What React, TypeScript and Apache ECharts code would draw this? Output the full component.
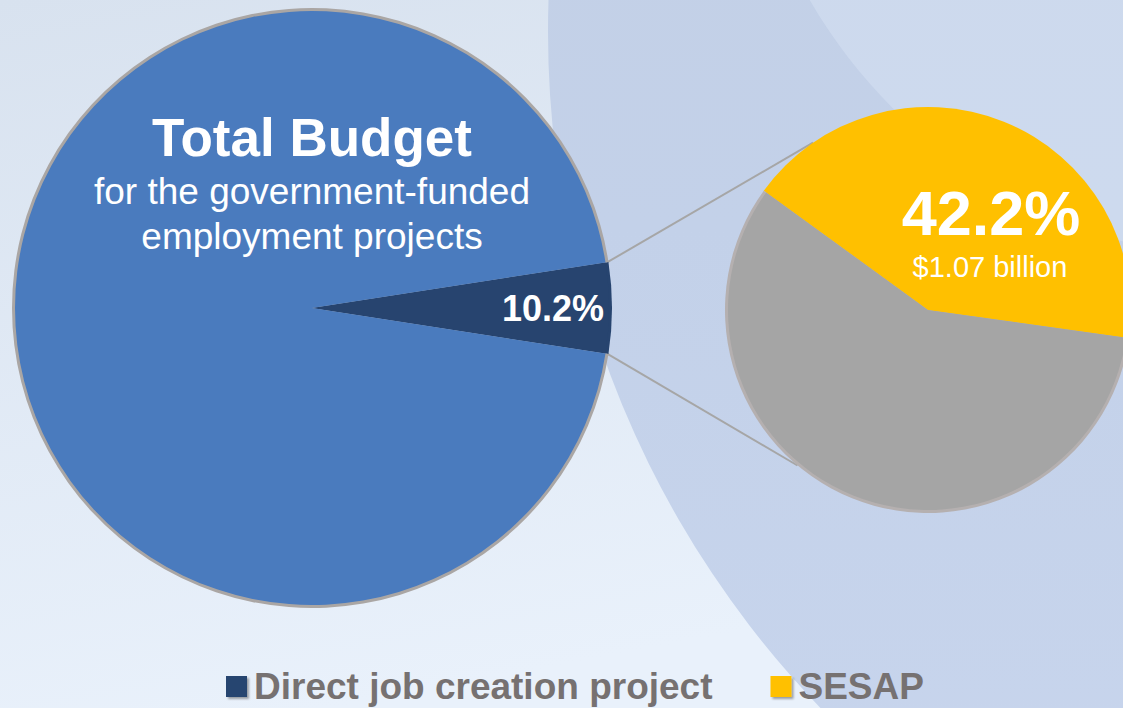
import React, { useEffect, useRef } from "react";
import * as echarts from "echarts";

// ---- data ----
const BIG_CATEGORIES = ["Direct job creation project", "Other employment projects"];
const BIG_SHARES = [4.9, 95.1]; // share of the circle as drawn
const BIG_LABEL = "10.2%";
const SMALL_CATEGORIES = ["SESAP", "Other direct job creation"];
const SMALL_SHARES = [42.2, 57.8];
const SMALL_LABEL = "42.2%";
const SMALL_AMOUNT = "$1.07 billion";
const TITLE_LINES = ["Total Budget", "for the government-funded", "employment projects"];
const LEGEND_ITEMS = ["Direct job creation project", "SESAP"];

const BIG_COLORS = ["#27446f", "#4a7bbe"];
const BIG_RING = ["#27446f", "#aaa6a4"];
const SMALL_COLORS = ["#ffc000", "#a5a5a5"];
const SMALL_RING = ["#ffc000", "#b5b0b0"];

const FONT = "Liberation Sans";

export default function App() {
  const ref = useRef<HTMLDivElement>(null);
  useEffect(() => {
    if (!ref.current) return;
    const chart = echarts.init(ref.current, null, { renderer: "svg" });

    const bigC = [312, 308];
    const bigR = 297;
    const bigRing = 300;
    const smallC = [928, 310];
    const smallR = 200;
    const smallRing = 203;

    const bigStart = (BIG_SHARES[0] / 100) * 360 / 2;
    const smallStart = 144;
    const rad = Math.PI / 180;
    const p = (c: number[], r: number, a: number) => [c[0] + r * Math.cos(a * rad), c[1] - r * Math.sin(a * rad)];
    const t1 = p(bigC, bigRing - 1, bigStart);
    const b1 = p(bigC, bigRing - 1, -bigStart);
    const t2 = p(smallC, smallRing, 124.5);
    const b2 = p(smallC, smallRing, 230);

    const mk = (names: string[], vals: number[], colors: string[]) =>
      names.map((n, i) => ({ name: n, value: vals[i], itemStyle: { color: colors[i] } }));

    const pieBase = {
      type: "pie",
      silent: true,
      label: { show: false },
      labelLine: { show: false },
      emphasis: { disabled: true },
      itemStyle: { borderWidth: 0 },
      padAngle: 0,
      avoidLabelOverlap: false,
    };

    const texts: any[] = [
      { t: TITLE_LINES[0], x: bigC[0], y: 137, size: 53, bold: true },
      { t: TITLE_LINES[1], x: bigC[0], y: 191, size: 37, bold: false },
      { t: TITLE_LINES[2], x: bigC[0], y: 236, size: 37, bold: false },
      { t: BIG_LABEL, x: 553, y: 308, size: 36, bold: true },
      { t: SMALL_LABEL, x: 991, y: 213, size: 63, bold: true },
      { t: SMALL_AMOUNT, x: 990, y: 267, size: 29, bold: false },
    ].map((d) => ({
      type: "text",
      z: 100,
      silent: true,
      style: {
        text: d.t,
        x: d.x,
        y: d.y,
        fill: "#ffffff",
        textAlign: "center",
        textVerticalAlign: "middle",
        fontFamily: FONT,
        fontSize: d.size,
        fontWeight: d.bold ? "bold" : "normal",
      },
    }));

    chart.setOption({
      animation: false,
      backgroundColor: "#dde6f2",
      textStyle: { fontFamily: FONT },
      legend: {
        data: LEGEND_ITEMS,
        left: 226,
        top: 668,
        padding: 0,
        itemWidth: 21,
        itemHeight: 21,
        itemGap: 58,
        icon: "rect",
        selectedMode: false,
        itemStyle: { shadowBlur: 2, shadowColor: "rgba(0,0,0,0.35)", shadowOffsetX: 2, shadowOffsetY: 2 },
        textStyle: { fontFamily: FONT, fontWeight: "bold", fontSize: 37, color: "#767171", padding: [0, 0, 0, 2] },
      },
      graphic: [
        {
          type: "rect",
          z: -10,
          silent: true,
          shape: { x: 0, y: 0, width: 1123, height: 708 },
          style: {
            fill: new echarts.graphic.LinearGradient(0, 0, 0.3, 1, [
              { offset: 0, color: "#d8e2ef" },
              { offset: 1, color: "#e9f1fb" },
            ]),
          },
        },
        {
          type: "circle",
          z: -9,
          silent: true,
          shape: { cx: 1523, cy: 32, r: 975 },
          style: {
            fill: new echarts.graphic.LinearGradient(0, 0, 0, 1, [
              { offset: 0, color: "#c3cee0" },
              { offset: 0.6, color: "#c3d1e9" },
              { offset: 1, color: "#c9d6ee" },
            ]),
          },
        },
        {
          type: "circle",
          z: -8,
          silent: true,
          shape: { cx: 1260, cy: -260, r: 520 },
          style: { fill: "rgba(212,224,241,0.6)" },
        },
        {
          type: "line",
          z: -1,
          silent: true,
          shape: { x1: t1[0], y1: t1[1], x2: t2[0], y2: t2[1] },
          style: { stroke: "#a6a6a6", lineWidth: 2 },
        },
        {
          type: "line",
          z: -1,
          silent: true,
          shape: { x1: b1[0], y1: b1[1], x2: b2[0], y2: b2[1] },
          style: { stroke: "#a6a6a6", lineWidth: 2 },
        },
        ...texts,
      ],
      series: [
        { ...pieBase, name: "ringBig", center: bigC, radius: bigRing, startAngle: bigStart, data: mk(BIG_CATEGORIES, BIG_SHARES, BIG_RING) },
        { ...pieBase, name: "big", center: bigC, radius: bigR, startAngle: bigStart, data: mk(BIG_CATEGORIES, BIG_SHARES, BIG_COLORS) },
        { ...pieBase, name: "ringSmall", center: smallC, radius: smallRing, startAngle: smallStart, data: mk(SMALL_CATEGORIES, SMALL_SHARES, SMALL_RING) },
        { ...pieBase, name: "small", center: smallC, radius: smallR, startAngle: smallStart, data: mk(SMALL_CATEGORIES, SMALL_SHARES, SMALL_COLORS) },
      ],
    });
    return () => chart.dispose();
  }, []);
  return <div ref={ref} style={{ position: "fixed", left: 0, top: 0, width: 1123, height: 708 }} />;
}
